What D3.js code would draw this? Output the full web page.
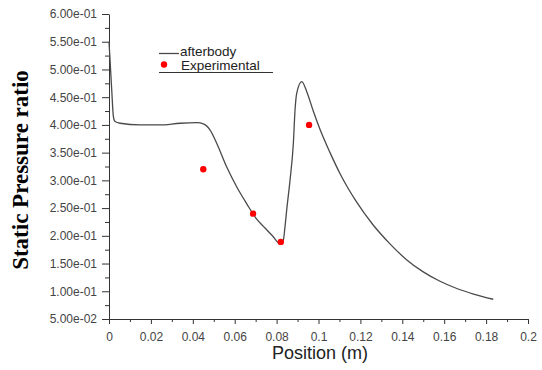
<!DOCTYPE html>
<html>
<head>
<meta charset="utf-8">
<script src="https://cdn.jsdelivr.net/npm/d3@7"></script>
<style>
  body { margin: 0; background: #fff; }
  .tick text { font-family: "Liberation Sans", Arial, sans-serif; fill: #444; }
</style>
</head>
<body>
<figure id="pressure-chart" style="margin:0"></figure>
<script>
// afterbody simulation curve (position m, static pressure ratio)
const afterbodyX = [0, 0.0005, 0.0013, 0.0021, 0.0029, 0.0053, 0.0148, 0.0243, 0.0339, 0.0419, 0.0453,
  0.0482, 0.0514, 0.0562, 0.061, 0.0657, 0.0705, 0.0745, 0.078, 0.0816, 0.0832, 0.084, 0.0848, 0.0864,
  0.088, 0.0888, 0.0896, 0.092, 0.0944, 0.0975, 0.1007, 0.1055, 0.1103, 0.118, 0.126, 0.134,
  0.142, 0.15, 0.158, 0.166, 0.174, 0.1834];
const afterbodyY = [0.55, 0.517, 0.463, 0.415, 0.406, 0.403, 0.400, 0.400, 0.403, 0.404, 0.4015,
  0.391, 0.367, 0.324, 0.288, 0.258, 0.230, 0.214, 0.200, 0.186, 0.192, 0.216, 0.246, 0.300,
  0.367, 0.427, 0.457, 0.478, 0.460, 0.425, 0.392, 0.350, 0.312, 0.262, 0.220, 0.186,
  0.157, 0.135, 0.118, 0.105, 0.095, 0.0856];

// experimental measurements
const expX = [0.045, 0.0688, 0.082, 0.0955];
const expY = [0.32, 0.24, 0.189, 0.40];

const xTicks = [0, 0.02, 0.04, 0.06, 0.08, 0.1, 0.12, 0.14, 0.16, 0.18, 0.2];
const xTickLabels = ["0", "0.02", "0.04", "0.06", "0.08", "0.1", "0.12", "0.14", "0.16", "0.18", "0.2"];
const yTicks = [0.05, 0.1, 0.15, 0.2, 0.25, 0.3, 0.35, 0.4, 0.45, 0.5, 0.55, 0.6];
const yTickLabels = ["5.00e-02", "1.00e-01", "1.50e-01", "2.00e-01", "2.50e-01", "3.00e-01",
  "3.50e-01", "4.00e-01", "4.50e-01", "5.00e-01", "5.50e-01", "6.00e-01"];
const legendLabels = ["afterbody", "Experimental"];

const width = 542, height = 370;
const margin = {top: 14, right: 14, bottom: 51, left: 109};

const svg = d3.select("figure#pressure-chart")
  .append("svg")
  .attr("width", width)
  .attr("height", height);

const xScale = d3.scaleLinear().domain([0, 0.2]).range([margin.left, width - margin.right]);
const yScale = d3.scaleLinear().domain([0.05, 0.6]).range([height - margin.bottom, margin.top]);

const xMinor = xTicks.slice(0, -1).map((t, i) => (t + xTicks[i + 1]) / 2);
const yMinor = yTicks.slice(0, -1).map((t, i) => (t + yTicks[i + 1]) / 2);

// minor ticks
svg.append("g")
  .attr("transform", `translate(0,${yScale(0.05)})`)
  .call(d3.axisBottom(xScale).tickValues(xMinor).tickSize(3).tickFormat(""))
  .call(g => g.select(".domain").remove());
svg.append("g")
  .attr("transform", `translate(${xScale(0)},0)`)
  .call(d3.axisLeft(yScale).tickValues(yMinor).tickSize(4).tickFormat(""))
  .call(g => g.select(".domain").remove());

// major axes
const xAxis = svg.append("g")
  .attr("transform", `translate(0,${yScale(0.05)})`)
  .call(d3.axisBottom(xScale).tickValues(xTicks).tickSize(5).tickSizeOuter(0).tickPadding(8)
    .tickFormat((d, i) => xTickLabels[i]));
const yAxis = svg.append("g")
  .attr("transform", `translate(${xScale(0)},0)`)
  .call(d3.axisLeft(yScale).tickValues(yTicks).tickSize(7).tickSizeOuter(0).tickPadding(5)
    .tickFormat((d, i) => yTickLabels[i]));

svg.selectAll(".domain, .tick line").attr("stroke", "#333");
svg.selectAll(".tick text").attr("font-size", 12);

// axis titles
svg.append("text")
  .attr("transform", `translate(28,${170}) rotate(-90)`)
  .style("text-anchor", "middle")
  .style("font-family", "'Liberation Serif', 'Times New Roman', serif")
  .style("font-weight", "bold")
  .style("font-size", "23px")
  .attr("fill", "#000")
  .text("Static Pressure ratio");
svg.append("text")
  .attr("x", 320)
  .attr("y", 359)
  .style("text-anchor", "middle")
  .style("font-family", "'Liberation Sans', Arial, sans-serif")
  .style("font-size", "18px")
  .attr("fill", "#222")
  .text("Position (m)");

// curve
const line = d3.line()
  .x(i => xScale(afterbodyX[i]))
  .y(i => yScale(afterbodyY[i]))
  .curve(d3.curveMonotoneX);
svg.append("path")
  .attr("d", line(d3.range(afterbodyX.length)))
  .attr("fill", "none")
  .attr("stroke", "#4a4a4a")
  .attr("stroke-width", 1.3);

// experimental points
svg.selectAll("circle.exp")
  .data(d3.range(expX.length))
  .enter()
  .append("circle")
  .attr("class", "exp")
  .attr("cx", i => xScale(expX[i]))
  .attr("cy", i => yScale(expY[i]))
  .attr("r", 3.2)
  .attr("fill", "#ff0000");

// legend
const legend = svg.append("g").attr("transform", "translate(159,0)");
legend.append("line")
  .attr("x1", 0).attr("x2", 20).attr("y1", 53.5).attr("y2", 53.5)
  .attr("stroke", "#4a4a4a").attr("stroke-width", 1.3);
legend.append("circle")
  .attr("cx", 5).attr("cy", 64.5).attr("r", 3.2).attr("fill", "#ff0000");
legend.selectAll("text")
  .data(legendLabels)
  .enter()
  .append("text")
  .attr("x", (d, i) => i === 0 ? 21 : 22)
  .attr("y", (d, i) => 56 + i * 13.5)
  .style("font-family", "'Liberation Sans', Arial, sans-serif")
  .style("font-size", "13.5px")
  .attr("fill", "#222")
  .text(d => d);
legend.append("line")
  .attr("x1", 0).attr("x2", 114).attr("y1", 72.5).attr("y2", 72.5)
  .attr("stroke", "#333").attr("stroke-width", 1);
</script>
</body>
</html>
